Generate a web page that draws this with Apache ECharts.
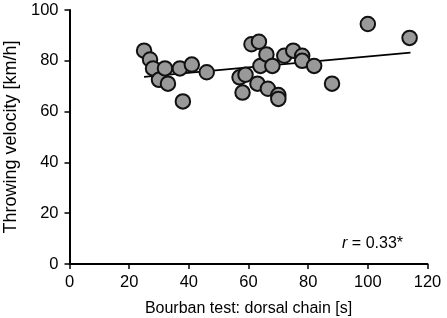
<!DOCTYPE html>
<html>
<head>
<meta charset="utf-8">
<script src="https://cdn.jsdelivr.net/npm/echarts@6/dist/echarts.min.js"></script>
<style>
  html, body { margin: 0; padding: 0; background: #fff; }
  #chart { width: 447px; height: 318px; }
</style>
</head>
<body>
<div id="chart"></div>
<script>
// bourban test (s) vs throwing velocity (km/h)
const bourbanTime = [25, 27, 28, 30, 32, 33, 37, 38, 41, 46,
    57, 58, 59, 61, 63.5, 63, 64, 66, 66.5, 68,
    70, 70, 72, 75, 78, 78, 82, 88, 100, 114];
const throwVelocity = [84, 80.5, 77, 72.5, 77, 71, 77, 64, 78.5, 75.5,
    73.5, 67.5, 74.5, 86.5, 87.5, 71, 78, 82.5, 69, 78,
    66.5, 65, 82, 84, 82, 80, 78, 71, 94.5, 89];
// trend line ends
const fitX = [25, 114.3];
const fitY = [73.7, 83.2];
const xTicks = [0, 20, 40, 60, 80, 100, 120];
const yTicks = [0, 20, 40, 60, 80, 100];

const font = 'Liberation Sans, Arial, sans-serif';

const points = bourbanTime.map((x, i) => [x, throwVelocity[i]]);
const fitData = fitX.map((x, i) => [x, fitY[i]]);

const chart = echarts.init(document.getElementById('chart'));
chart.setOption({
    animation: false,
    backgroundColor: '#fff',
    grid: { left: 69.5, right: 19.5, top: 10, bottom: 54, containLabel: false, outerBoundsMode: 'none' },
    xAxis: {
        type: 'value',
        min: xTicks[0],
        max: xTicks[xTicks.length - 1],
        interval: 20,
        name: 'Bourban test: dorsal chain [s]',
        nameLocation: 'middle',
        nameGap: 37,
        nameTextStyle: { fontFamily: font, fontSize: 16, color: '#000' },
        axisLine: { lineStyle: { color: '#000', width: 2 } },
        axisTick: { length: 5, lineStyle: { color: '#000', width: 1.5 } },
        axisLabel: { fontFamily: font, fontSize: 16.5, color: '#000', margin: 10 },
        splitLine: { show: false }
    },
    yAxis: {
        type: 'value',
        min: yTicks[0],
        max: yTicks[yTicks.length - 1],
        interval: 20,
        name: 'Throwing velocity [km/h]',
        nameLocation: 'middle',
        nameGap: 41,
        nameTextStyle: { fontFamily: font, fontSize: 18, color: '#000' },
        axisLine: { show: true, lineStyle: { color: '#000', width: 2 } },
        axisTick: { show: true, length: 5, lineStyle: { color: '#000', width: 1.5 } },
        axisLabel: { fontFamily: font, fontSize: 16.5, color: '#000', margin: 11 },
        splitLine: { show: false }
    },
    series: [
        {
            type: 'line',
            data: fitData,
            symbol: 'none',
            lineStyle: { color: '#000', width: 1.8 },
            z: 1
        },
        {
            type: 'scatter',
            data: points,
            symbol: 'circle',
            symbolSize: 14.5,
            itemStyle: { color: '#999999', borderColor: '#111', borderWidth: 2, opacity: 1 },
            z: 3
        }
    ],
    graphic: [{
        type: 'text',
        right: 44,
        top: 236,
        style: {
            text: '{i|r} = 0.33*',
            font: '16px ' + font,
            fill: '#000',
            rich: {
                i: { fontStyle: 'italic', fontFamily: font, fontSize: 16, fill: '#000' }
            }
        }
    }]
});
</script>
</body>
</html>
